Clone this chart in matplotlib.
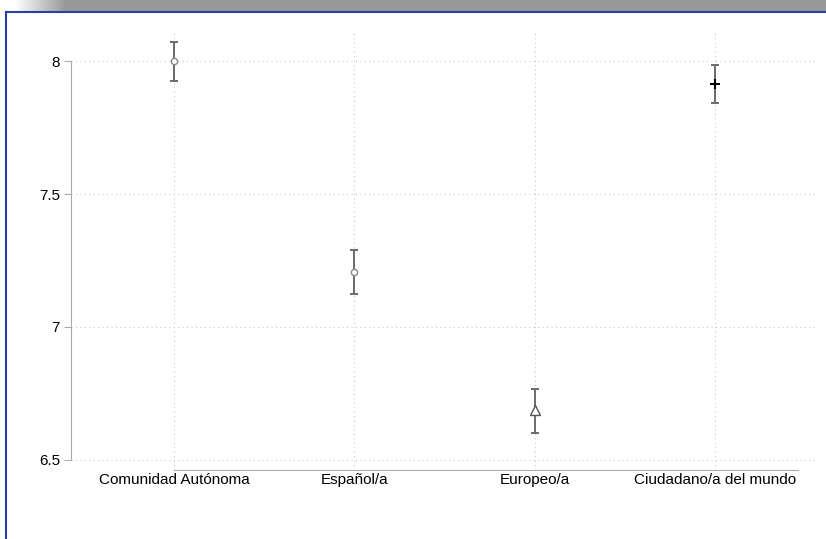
import numpy as np
import matplotlib
matplotlib.use("Agg")
import matplotlib.pyplot as plt
from matplotlib.lines import Line2D

plt.rcParams['font.family'] = ['Liberation Sans', 'DejaVu Sans']

# Datos
categorias = ['Comunidad Autónoma', 'Español/a', 'Europeo/a', 'Ciudadano/a del mundo']
medias = [8.0, 7.207, 6.688, 7.914]
lim_inf = [7.925, 7.124, 6.602, 7.842]
lim_sup = [8.071, 7.290, 6.767, 7.985]
marcadores = ['o', 'o', '^', '+']
colores_marca = ['#888888', '#888888', '#555555', '#000000']
yticks = [6.5, 7, 7.5, 8]
ytick_labels = ['6.5', '7', '7.5', '8']

fig = plt.figure(figsize=(8.26, 5.39), dpi=100)
fig.patch.set_facecolor('white')

# marco tipo ventana (barra gris arriba, borde azul)
W, H = 826, 539
barra = fig.add_axes([0, 1 - 11 / H, 1, 11 / H])
grad = np.linspace(0, 1, 826)
grad = np.clip((grad * 826 - 15) / 50, 0, 1)
img = np.ones((1, 826, 3))
for k in range(3):
    img[0, :, k] = 1 - grad * (1 - 0.6)
barra.imshow(img, aspect='auto', extent=[0, 1, 0, 1])
barra.axis('off')
fig.add_artist(Line2D([6 / W, 1], [1 - 11.5 / H, 1 - 11.5 / H], color='#2d3f9e', lw=1.5))
fig.add_artist(Line2D([6 / W, 6 / W], [0, 1 - 11.5 / H], color='#2d3f9e', lw=1.5))

ax = fig.add_axes([71 / W, 1 - 470 / H, (817 - 71) / W, (470 - 30) / H])
x = np.arange(len(categorias))
for i in range(len(categorias)):
    ax.errorbar(x[i], medias[i],
                yerr=[[medias[i] - lim_inf[i]], [lim_sup[i] - medias[i]]],
                fmt='none', ecolor='#6a6a6a', elinewidth=1.4, capsize=3.2, capthick=1.4, zorder=3)
    if marcadores[i] == '+':
        ax.plot(x[i], medias[i], marker='+', color=colores_marca[i], ms=7, mew=1.5, zorder=4)
    else:
        ax.plot(x[i], medias[i], marker=marcadores[i], mfc='white', mec=colores_marca[i],
                ms=4.5 if marcadores[i] == 'o' else 7, mew=1.0, zorder=4)

ax.set_xlim(-0.571, 3.566)
ax.set_ylim(6.462, 8.117)
ax.set_xticks(x)
ax.set_xticklabels(categorias, fontsize=11)
ax.set_yticks(yticks)
ax.set_yticklabels(ytick_labels, fontsize=11)
ax.tick_params(axis='x', length=0, pad=2)
ax.tick_params(axis='y', length=5, color='#aaaaaa', pad=3)
ax.grid(True, linestyle=(0, (1, 3)), color='#c8c8c8', lw=0.8)
ax.set_axisbelow(True)
for s in ['top', 'right']:
    ax.spines[s].set_visible(False)
ax.spines['left'].set_color('#aaaaaa')
ax.spines['bottom'].set_color('#aaaaaa')
ax.spines['left'].set_bounds(6.5, 8)
ax.spines['bottom'].set_bounds(0, 3.46)

fig.savefig('out.png', dpi=100)
